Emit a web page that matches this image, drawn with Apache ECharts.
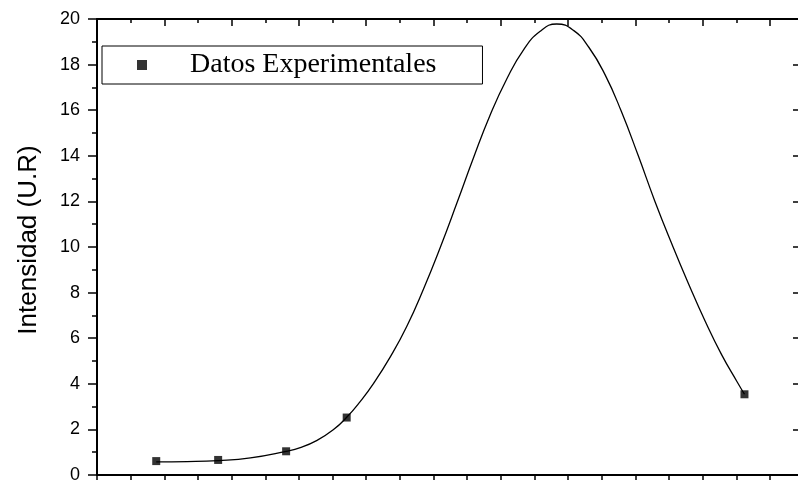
<!DOCTYPE html>
<html>
<head>
<meta charset="utf-8">
<script src="https://cdn.jsdelivr.net/npm/echarts@6/dist/echarts.min.js"></script>
<style>
  html, body { margin: 0; padding: 0; background: #fff; }
  #chart { width: 798px; height: 480px; }
</style>
</head>
<body>
<div id="chart"></div>
<script>
// Experimental measurements
const expX = [0.88, 1.80, 2.81, 3.71, 9.62];
const expY = [0.61, 0.66, 1.04, 2.52, 3.54];

// Fitted peak curve
const fitX = [0.88, 1.34, 1.80, 2.28, 2.81, 3.02, 3.27, 3.51, 3.71, 3.91, 4.11, 4.36, 4.60, 4.85, 5.10, 5.35, 5.59, 5.84, 6.09, 6.34, 6.58, 6.83, 7.08, 7.31, 7.55, 7.79, 8.04, 8.29, 8.54, 8.79, 9.04, 9.28, 9.51, 9.62];
const fitY = [0.58, 0.59, 0.63, 0.75, 1.04, 1.20, 1.52, 1.98, 2.53, 3.22, 4.02, 5.19, 6.50, 8.15, 9.98, 11.95, 13.88, 15.78, 17.38, 18.66, 19.45, 19.78, 19.50, 18.75, 17.55, 15.95, 14.02, 12.00, 10.14, 8.38, 6.72, 5.28, 4.09, 3.54];

const yTicks = [0, 2, 4, 6, 8, 10, 12, 14, 16, 18, 20];

const seriesName = 'Datos Experimentales';
const yTitle = 'Intensidad (U.R)';

const chart = echarts.init(document.getElementById('chart'), null, { renderer: 'canvas' });

const axisLine = { show: true, onZero: false, lineStyle: { color: '#000', width: 2 } };

chart.setOption({
  animation: false,
  backgroundColor: '#fff',
  grid: { left: 97, right: -3, top: 19, bottom: 5, containLabel: false, outerBoundsMode: 'none' },
  legend: {
    data: [{ name: seriesName, icon: 'rect' }],
    left: 102,
    top: 46,
    orient: 'horizontal',
    itemWidth: 10,
    itemHeight: 10,
    padding: [5, 46, 5, 35],
    borderColor: '#000',
    borderWidth: 1,
    selectedMode: false,
    textStyle: {
      fontFamily: '"Liberation Serif", "Times New Roman", serif',
      fontSize: 28,
      color: '#000',
      lineHeight: 27,
      padding: [0, 0, 0, 38]
    }
  },
  xAxis: [
    {
      type: 'value', position: 'bottom', min: 0, max: 10.46, interval: 1,
      axisLine: axisLine,
      axisTick: { show: true, inside: false, length: 8, lineStyle: { color: '#000', width: 1.5 } },
      minorTick: { show: true, splitNumber: 2, length: 8, lineStyle: { color: '#000', width: 1.5 } },
      axisLabel: { show: false },
      splitLine: { show: false }
    },
    {
      type: 'value', position: 'top', min: 0, max: 10.46, interval: 1,
      axisLine: axisLine,
      axisTick: { show: true, inside: true, length: 7, lineStyle: { color: '#000', width: 1.5 } },
      minorTick: { show: true, splitNumber: 2, length: 4, lineStyle: { color: '#000', width: 1.5 } },
      axisLabel: { show: false },
      splitLine: { show: false }
    }
  ],
  yAxis: [
    {
      type: 'value', position: 'left', min: yTicks[0], max: yTicks[yTicks.length - 1], interval: 2,
      name: yTitle,
      nameLocation: 'middle',
      nameGap: 55,
      nameTextStyle: {
        fontFamily: '"Liberation Sans", Arial, sans-serif',
        fontSize: 26,
        color: '#000',
        padding: [0, 0, 0, 14]
      },
      axisLine: axisLine,
      axisTick: { show: true, inside: false, length: 9, lineStyle: { color: '#000', width: 1.5 } },
      minorTick: { show: true, splitNumber: 2, length: 5, lineStyle: { color: '#000', width: 1.5 } },
      axisLabel: {
        show: true, margin: 17, color: '#000',
        fontFamily: '"Liberation Sans", Arial, sans-serif', fontSize: 18
      },
      splitLine: { show: false }
    },
    {
      type: 'value', position: 'right', min: yTicks[0], max: yTicks[yTicks.length - 1], interval: 2,
      axisLine: axisLine,
      axisTick: { show: true, inside: true, length: 8, lineStyle: { color: '#000', width: 1.5 } },
      minorTick: { show: false },
      axisLabel: { show: false },
      splitLine: { show: false }
    }
  ],
  series: [
    {
      name: 'Ajuste',
      type: 'line',
      xAxisIndex: 0, yAxisIndex: 0,
      data: fitX.map((x, i) => [x, fitY[i]]),
      smooth: 0.5,
      showSymbol: false,
      symbol: 'none',
      lineStyle: { color: '#000', width: 1.3 },
      z: 2
    },
    {
      name: seriesName,
      type: 'scatter',
      xAxisIndex: 0, yAxisIndex: 0,
      data: expX.map((x, i) => [x, expY[i]]),
      symbol: 'rect',
      symbolSize: 8,
      itemStyle: { color: '#000' },
      z: 3
    }
  ]
});
</script>
</body>
</html>
